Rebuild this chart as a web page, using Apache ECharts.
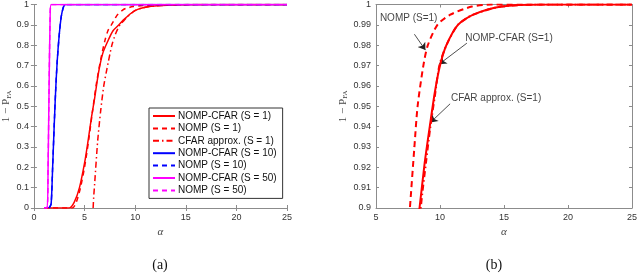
<!DOCTYPE html>
<html>
<head>
<meta charset="utf-8">
<script src="https://cdn.jsdelivr.net/npm/echarts@6/dist/echarts.min.js"></script>
<style>
html,body{margin:0;padding:0;background:#fff;}
#c{width:640px;height:276px;}
</style>
</head>
<body>
<div id="c"></div>
<script>
// ---- data (alpha, 1 - P_FA) ----
const nompCfarS1 = [[1.0,0],[3.5,0],[4.0,0.03],[4.5,0.10],[5.0,0.22],[5.35,0.33],[5.7,0.45],[6.0,0.54],[6.4,0.67],[6.8,0.76],[7.3,0.82],[7.8,0.87],[8.4,0.90],[8.8,0.922],[9.2,0.94],[9.6,0.957],[10.0,0.97],[10.5,0.98],[11.4,0.99],[12.6,0.995],[14.8,0.999],[18,1],[25,1]];
const nompS1 = [[1.0,0],[3.8,0],[4.2,0.03],[4.6,0.10],[5.0,0.20],[5.4,0.33],[5.8,0.48],[6.2,0.62],[6.6,0.73],[7.0,0.82],[7.3,0.87],[7.65,0.90],[8.0,0.93],[8.25,0.95],[8.7,0.97],[9.05,0.98],[9.8,0.99],[10.8,0.995],[12.5,0.999],[14,1],[25,1]];
const cfarApproxS1 = [[5.85,0],[5.9,0.05],[6.0,0.12],[6.3,0.33],[6.6,0.48],[6.9,0.60],[7.2,0.68],[7.7,0.80],[8.1,0.86],[8.5,0.90],[8.9,0.922],[9.25,0.94],[9.6,0.955],[9.95,0.97],[10.5,0.98],[11.4,0.99],[12.6,0.995],[14.8,0.999],[18,1],[25,1]];
const nompCfarS10 = [[1.5,0],[1.7,0.02],[1.85,0.2],[2.0,0.4],[2.15,0.58],[2.3,0.72],[2.5,0.85],[2.7,0.94],[2.9,0.985],[3.1,1],[25,1]];
const nompS10 = [[1.5,0],[1.7,0.02],[1.85,0.2],[2.0,0.4],[2.15,0.58],[2.3,0.72],[2.5,0.85],[2.7,0.94],[2.9,0.985],[3.1,1],[25,1]];
const nompCfarS50 = [[1.0,0],[1.3,0],[1.4,0.2],[1.5,0.6],[1.6,0.93],[1.7,1],[25,1]];
const nompS50 = [[1.0,0],[1.3,0],[1.4,0.2],[1.5,0.6],[1.6,0.93],[1.7,1],[25,1]];

const legendNames = ['NOMP-CFAR (S = 1)','NOMP (S = 1)','CFAR approx. (S = 1)','NOMP-CFAR (S = 10)','NOMP (S = 10)','NOMP-CFAR (S = 50)','NOMP (S = 50)'];

// annotations on panel (b): text anchor, arrow start, arrow tip (data coords)
const annoText = [['NOMP (S=1)',7.55,0.9932],['NOMP-CFAR (S=1)',15.39,0.9834],['CFAR approx. (S=1)',14.38,0.9541]];
const annoArrows = [[[8.0,0.9854],[8.86,0.9776]],[[12.1,0.9810],[9.94,0.9707]],[[10.79,0.9512],[9.25,0.9420]]];

const leftX = {min:0,max:25,interval:5};
const leftY = {min:0,max:1,interval:0.1};
const rightX = {min:5,max:25,interval:5};
const rightY = {min:0.9,max:1,interval:0.01};
</script>
<script>
const chart = echarts.init(document.getElementById('c'), null, {renderer:'canvas'});
const AX = '#8c8c8c';
const LBL = '#333';
function mainAxis(r, pos, gi, name, yGap){
  return Object.assign({
    type:'value', gridIndex:gi, position:pos,
    min:r.min, max:r.max, interval:r.interval,
    axisLine:{show:true,lineStyle:{color:AX,width:1}},
    axisTick:{show:true,inside:true,length:3,lineStyle:{color:AX}},
    axisLabel:{show:true,color:LBL,fontSize:9,fontFamily:'Liberation Sans, Arial',margin:5},
    splitLine:{show:false},
    name:name
  }, yGap ? {
    nameLocation:'middle', nameGap:yGap, nameRotate:90,
    nameTextStyle:{color:'#444',fontFamily:'Liberation Serif, serif',fontSize:11,
      rich:{sub:{fontSize:7,fontFamily:'Liberation Serif, serif',color:'#444',verticalAlign:'bottom',padding:[5,0,0,0]}}}
  } : {
    nameLocation:'middle', nameGap:14,
    nameTextStyle:{color:'#444',fontFamily:'Liberation Serif, serif',fontStyle:'italic',fontSize:11}
  });
}
function boxAxis(r, pos, gi){
  return {type:'value',gridIndex:gi,position:pos,min:r.min,max:r.max,interval:r.interval,
    axisLine:{show:true,lineStyle:{color:AX,width:1}},
    axisTick:{show:true,inside:true,length:3,lineStyle:{color:AX}},
    axisLabel:{show:false},splitLine:{show:false}};
}
const dashDot = [6,3,1.5,3];
function ln(name, data, color, type, xi, yi, w){
  return {name:name,type:'line',data:data,xAxisIndex:xi,yAxisIndex:yi,
    showSymbol:false,symbol:'none',smooth:0.25,clip:true,silent:true,animation:false,
    lineStyle:{color:color,width:w,type:type},itemStyle:{color:color}};
}
const series = [
  ln(legendNames[0], nompCfarS1,'#ff0000','solid',0,0,1.5),
  ln(legendNames[1], nompS1,'#ff0000',[5,4],0,0,1.5),
  ln(legendNames[2], cfarApproxS1,'#ff0000',dashDot,0,0,1.5),
  ln(legendNames[3], nompCfarS10,'#0000ff','solid',0,0,1.5),
  ln(legendNames[4], nompS10,'#0000ff',[5,4],0,0,1.5),
  ln(legendNames[5], nompCfarS50,'#ff00ff','solid',0,0,1.5),
  ln(legendNames[6], nompS50,'#ff00ff',[5,4],0,0,1.5),
  ln('b1', nompCfarS1,'#ff0000','solid',2,2,2),
  ln('b2', nompS1,'#ff0000',[6,4],2,2,2),
  ln('b3', cfarApproxS1,'#ff0000',dashDot,2,2,2),
  {type:'lines',coordinateSystem:'cartesian2d',xAxisIndex:2,yAxisIndex:2,silent:true,animation:false,
    symbol:['none','arrow'],symbolSize:[0,7],
    lineStyle:{color:'#222',width:0.8,opacity:1},
    data:annoArrows.map(a=>({coords:a}))},
  {type:'scatter',xAxisIndex:2,yAxisIndex:2,symbolSize:0,silent:true,animation:false,
    data:annoText.map(t=>({name:t[0],value:[t[1],t[2]]})),
    label:{show:true,position:'inside',formatter:p=>p.name,color:'#111',fontSize:10,fontFamily:'Liberation Sans, Arial'}}
];
chart.setOption({
  animation:false,
  backgroundColor:'#fff',
  grid:[
    {left:27,top:3,width:260,height:205,containLabel:false},
    {left:376,top:3,width:259,height:205,containLabel:false}
  ],
  xAxis:[
    mainAxis(leftX,'bottom',0,'α',0),
    boxAxis(leftX,'top',0),
    mainAxis(rightX,'bottom',1,'α',0),
    boxAxis(rightX,'top',1)
  ],
  yAxis:[
    mainAxis(leftY,'left',0,'1 − P{sub|FA}',20),
    boxAxis(leftY,'right',0),
    mainAxis(rightY,'left',1,'1 − P{sub|FA}',27),
    boxAxis(rightY,'right',1)
  ],
  legend:{
    data:legendNames, orient:'vertical', left:149, top:108,
    itemWidth:22, itemHeight:10, itemGap:2.4,
    itemStyle:{opacity:0,borderWidth:0},
    padding:[3,6,3,3], backgroundColor:'#fff', borderColor:'#333', borderWidth:1,
    textStyle:{fontSize:10,color:'#111',fontFamily:'Liberation Sans, Arial',padding:[0,0,0,-2]},
    selectedMode:false
  },
  graphic:[
    {type:'text',style:{text:'(a)',font:'14px "Liberation Serif", serif',fill:'#111',x:160,y:265,align:'center',verticalAlign:'middle'}},
    {type:'text',style:{text:'(b)',font:'14px "Liberation Serif", serif',fill:'#111',x:494,y:265,align:'center',verticalAlign:'middle'}}
  ],
  series:series
});
</script>
</body>
</html>
